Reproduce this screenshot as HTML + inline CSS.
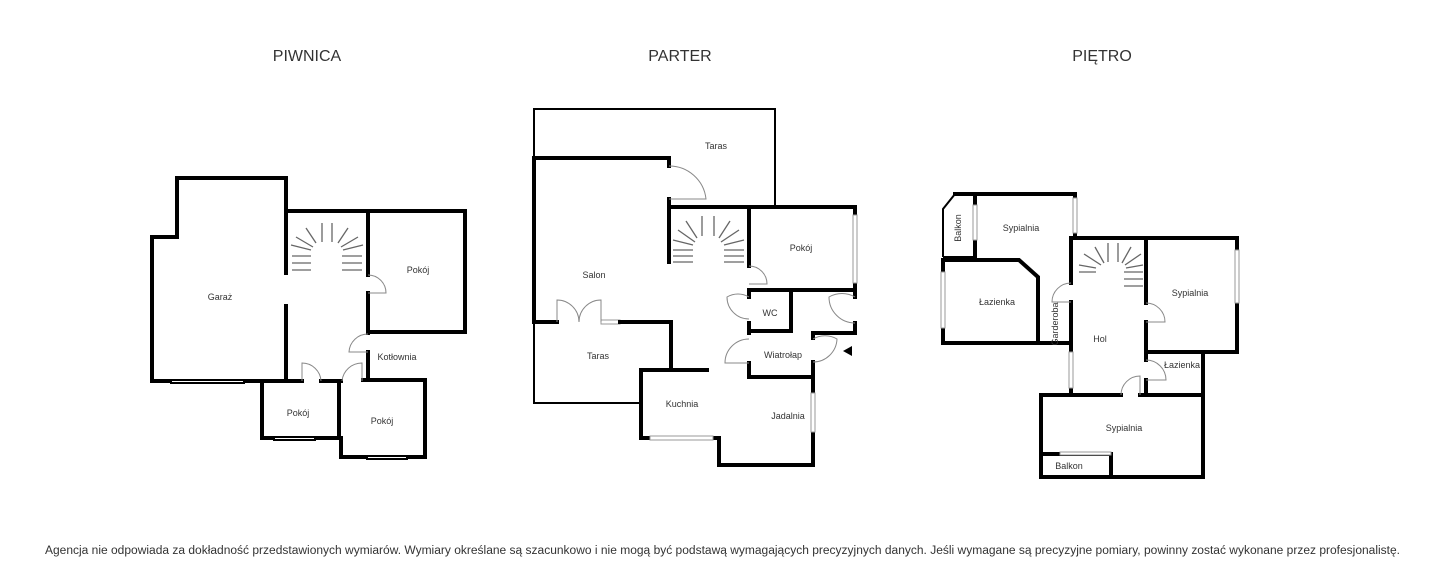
<!DOCTYPE html>
<html><head><meta charset="utf-8"><style>
html,body{margin:0;padding:0;background:#fff;width:1440px;height:570px;overflow:hidden}
svg{display:block}
text{font-family:"Liberation Sans",sans-serif;fill:#333}
.w{stroke:#000;stroke-width:4;fill:none;stroke-linecap:square}
.t{stroke:#000;stroke-width:2;fill:none}
.win{stroke:#999;stroke-width:1;fill:#fff}
.d{stroke:#888;stroke-width:1;fill:none}
.s{stroke:#666;stroke-width:1.3}
.l{font-size:9px;text-anchor:middle}
</style></head><body>
<svg width="1440" height="570" viewBox="0 0 1440 570">
<text x="307" y="61" font-size="16" text-anchor="middle">PIWNICA</text>
<text x="680" y="61" font-size="16" text-anchor="middle">PARTER</text>
<text x="1102" y="61" font-size="16" text-anchor="middle">PIĘTRO</text>

<!-- PIWNICA -->
<g>
<path class="w" d="M152,381 V237 H177 V178 H286 V211 H465 V332 H368"/>
<path class="w" d="M152,381 H170 M245,381 H302 M321,381 H341 M363,380 H425 V457 H408 M366,457 H341 V438 H316 M273,438 H262 V381"/>
<path class="t" d="M170,380 H245 M170,383 H245 M273,437 H316 M273,440 H316 M366,456 H408 M366,459 H408"/>
<path class="w" d="M286,211 V273 M286,306 V381 M368,211 V275 M368,293 V332 V333 M368,352 V380 M339,381 V438"/>
<path class="d" d="M368,275 A18,18 0 0 1 386,293 H368 M368,334 A19,19 0 0 0 349,352 H368 M302,381 V363 A19,19 0 0 1 321,381 M362,381 V363 A20,20 0 0 0 342,381"/>
<g class="s">
<line x1="322" y1="223" x2="322" y2="242"/><line x1="332" y1="223" x2="332" y2="242"/>
<line x1="306" y1="228" x2="316" y2="243"/><line x1="348" y1="228" x2="338" y2="243"/>
<line x1="296" y1="237" x2="313" y2="247"/><line x1="358" y1="237" x2="341" y2="247"/>
<line x1="291" y1="245" x2="311" y2="250"/><line x1="363" y1="245" x2="343" y2="250"/>
<line x1="292" y1="256" x2="311" y2="256"/><line x1="342" y1="256" x2="362" y2="256"/>
<line x1="292" y1="263" x2="311" y2="263"/><line x1="342" y1="263" x2="362" y2="263"/>
<line x1="292" y1="270" x2="311" y2="270"/><line x1="342" y1="270" x2="362" y2="270"/>
</g>
<text class="l" x="220" y="300">Garaż</text>
<text class="l" x="418" y="273">Pokój</text>
<text class="l" x="397" y="360">Kotłownia</text>
<text class="l" x="298" y="416">Pokój</text>
<text class="l" x="382" y="424">Pokój</text>
</g>

<!-- PARTER -->
<g>
<path class="t" d="M534,158 V109 H775 V207"/>
<path class="t" d="M534,322 V403 H641"/>
<path class="w" d="M534,322 V158 H669 V166 M669,199 V262 M669,207 H855 V215 M855,283 V297 M855,323 V333 H813 V338 M813,362 V393 M813,432 V465 H719 V438 H713 M650,438 H641 V370 H707"/>
<rect class="win" x="853" y="215" width="4" height="68"/>
<rect class="win" x="811" y="393" width="4" height="39"/>
<rect class="win" x="650" y="436" width="63" height="4"/>
<rect class="win" x="601" y="320" width="19" height="4"/>
<path class="w" d="M534,322 H557 M620,322 H671 V370"/>
<path class="w" d="M749,207 V266 M749,290 H855 M749,290 V297 M749,323 V333 M791,290 V331 H749 M749,363 V377 H813"/>
<path class="d" d="M669,166 A37,37 0 0 1 706,199 H669 M749,266 A18,18 0 0 1 767,284 H749 M749,297 A22,22 0 0 0 727,297 A22,22 0 0 0 749,319 M855,297 A26,26 0 0 0 829,297 A26,26 0 0 0 855,323 M749,339 A24,24 0 0 0 725,363 H749 M813,339 A24,24 0 0 1 837,339 A24,24 0 0 1 813,362 M557,322 V300 A22,22 0 0 1 579,322 A22,22 0 0 1 601,300 V322"/>
<polygon points="843,351 852,346 852,356" fill="#000"/>
<g class="s">
<line x1="702" y1="216" x2="702" y2="236"/><line x1="714" y1="216" x2="714" y2="236"/>
<line x1="686" y1="221" x2="697" y2="238"/><line x1="730" y1="221" x2="719" y2="238"/>
<line x1="678" y1="230" x2="695" y2="242"/><line x1="739" y1="230" x2="721" y2="242"/>
<line x1="673" y1="240" x2="693" y2="245"/><line x1="744" y1="240" x2="724" y2="245"/>
<line x1="673" y1="250" x2="693" y2="250"/><line x1="724" y1="250" x2="744" y2="250"/>
<line x1="673" y1="256" x2="693" y2="256"/><line x1="724" y1="256" x2="744" y2="256"/>
<line x1="673" y1="262" x2="693" y2="262"/><line x1="724" y1="262" x2="744" y2="262"/>
</g>
<text class="l" x="716" y="149">Taras</text>
<text class="l" x="594" y="278">Salon</text>
<text class="l" x="801" y="251">Pokój</text>
<text class="l" x="770" y="316">WC</text>
<text class="l" x="783" y="358">Wiatrołap</text>
<text class="l" x="598" y="359">Taras</text>
<text class="l" x="682" y="407">Kuchnia</text>
<text class="l" x="788" y="419">Jadalnia</text>
</g>

<!-- PIETRO -->
<g>
<path class="t" d="M943,257 V209 L955,194 M943,257 H975"/>
<path class="w" d="M955,194 H1075 V198 M1075,233 V238 H1237 V250 M1237,303 V352 H1146 M975,194 V205 M975,240 V257"/>
<rect class="win" x="973" y="205" width="4" height="35"/>
<rect class="win" x="1073" y="198" width="4" height="35"/>
<rect class="win" x="1235" y="250" width="4" height="53"/>
<path class="w" d="M943,272 V260 H1019 L1038,277 V343 M943,328 V343 H1071 V352 M1071,388 V395 M943,328 V343"/>
<rect class="win" x="941" y="272" width="4" height="56"/>
<rect class="win" x="1069" y="352" width="4" height="36"/>
<path class="w" d="M1071,238 V283 M1071,302 V343 M1146,238 V303 M1146,322 V352 M1203,352 V477 H1041 V395 H1121 M1140,395 H1203 M1146,352 V360 M1146,380 V395 M1041,454 H1111 V477"/>
<rect class="win" x="1060" y="452" width="51" height="3" />
<path class="d" d="M1071,283 A19,19 0 0 0 1052,302 H1071 M1146,303 A19,19 0 0 1 1165,322 H1146 M1146,360 A20,20 0 0 1 1166,380 H1146 M1121,395 A19,19 0 0 1 1140,376 V395"/>
<g class="s">
<line x1="1108" y1="243" x2="1108" y2="262"/><line x1="1118" y1="243" x2="1118" y2="262"/>
<line x1="1095" y1="247" x2="1104" y2="263"/><line x1="1131" y1="247" x2="1122" y2="263"/>
<line x1="1084" y1="254" x2="1101" y2="265"/><line x1="1141" y1="254" x2="1125" y2="265"/>
<line x1="1079" y1="265" x2="1096" y2="268"/><line x1="1143" y1="265" x2="1126" y2="268"/>
<line x1="1079" y1="272" x2="1096" y2="272"/><line x1="1124" y1="272" x2="1143" y2="272"/>
<line x1="1124" y1="279" x2="1143" y2="279"/><line x1="1124" y1="286" x2="1143" y2="286"/>
</g>
<text class="l" x="1021" y="231">Sypialnia</text>
<text class="l" x="997" y="305">Łazienka</text>
<text class="l" x="1100" y="342">Hol</text>
<text class="l" x="1190" y="296">Sypialnia</text>
<text class="l" x="1182" y="368">Łazienka</text>
<text class="l" x="1124" y="431">Sypialnia</text>
<text class="l" x="1069" y="469">Balkon</text>
<text class="l" transform="translate(961,228) rotate(-90)">Balkon</text>
<text class="l" transform="translate(1058,324) rotate(-90)" font-size="7.5">Garderoba</text>
</g>

<text x="45" y="554" font-size="11.5" textLength="1355" lengthAdjust="spacingAndGlyphs" fill="#000">Agencja nie odpowiada za dokładność przedstawionych wymiarów. Wymiary określane są szacunkowo i nie mogą być podstawą wymagających precyzyjnych danych. Jeśli wymagane są precyzyjne pomiary, powinny zostać wykonane przez profesjonalistę.</text>
</svg>
</body></html>
